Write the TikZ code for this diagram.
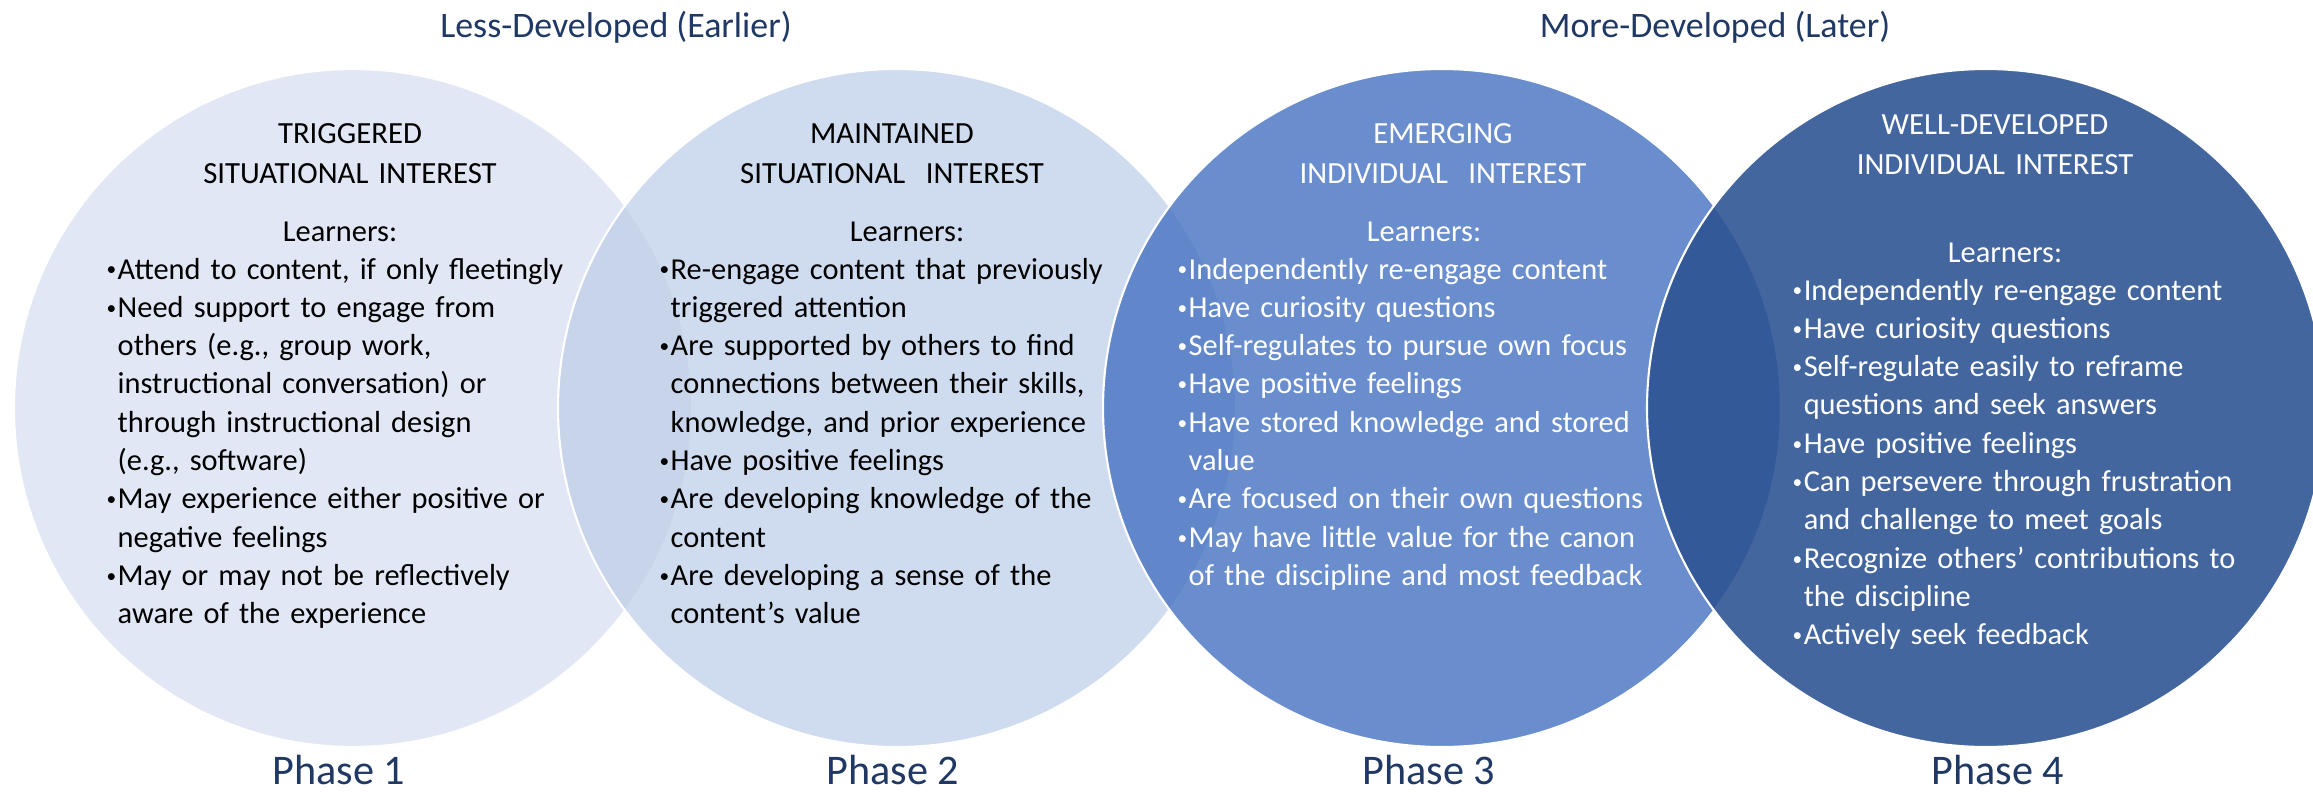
\documentclass[tikz,border=0pt]{standalone}
\usepackage{fontspec}
\setmainfont{Carlito}
\usepackage{xcolor}
\definecolor{phaseone}{RGB}{225,231,244}
\definecolor{phasetwo}{RGB}{188,204,231}
\definecolor{phasethree}{RGB}{73,117,195}
\definecolor{phasefour}{RGB}{45,83,147}
\definecolor{navytext}{RGB}{32,56,100}

% bullet with a small hanging indent
\newlength{\bw}
\setlength{\bw}{2.85pt}
\newcommand{\bul}{\makebox[\bw][l]{\hspace*{-0.3pt}\raisebox{0.9pt}{\fontsize{5.5}{6}\selectfont\textbullet}}}
\newcommand{\cnt}{\hspace*{\bw}}

\begin{document}
\begin{tikzpicture}[x=0.01cm, y=-0.01cm,
    phase/.style={draw=white, line width=0.6pt},
    head/.style={anchor=base, align=center, text width=5cm, inner sep=0pt,
                 font=\fontsize{8.75}{11.1}\selectfont},
    learn/.style={anchor=base, inner sep=0pt, font=\fontsize{8.65}{10.9}\selectfont},
    items/.style={anchor=base west, align=left, text width=6cm, inner sep=0pt,
                  font=\fontsize{8.65}{10.9}\selectfont},
    stage/.style={anchor=base, inner sep=0pt, text=navytext,
                  font=\fontsize{10.2}{12}\selectfont},
    phaselabel/.style={anchor=base, inner sep=0pt, text=navytext,
                  font=\fontsize{12}{14}\selectfont}]
    \useasboundingbox (0,0) rectangle (2313,791);
    \fill[white] (0,0) rectangle (2313,791);
    \clip (0,0) rectangle (2313,791);

    % Circles, each laid a little see-through over the one before
    \draw[phase, fill=phaseone] (353,408) circle (339);
    \draw[phase, fill=phasetwo, fill opacity=0.7] (897,408) circle (339);
    \draw[phase, fill=phasethree, fill opacity=0.82] (1442,408) circle (339);
    \draw[phase, fill=phasefour, fill opacity=0.886] (1986,408) circle (339);

    % Stage labels
    \node[stage] (less) at (616,38) {Less-Developed (Earlier)};
    \node[stage] (more) at (1715,38) {More-Developed (Later)};

    % Phase 1 - triggered
    \node[head] (head1) at (350,144) {TRIGGERED\\SITUATIONAL INTEREST};
    \node[learn] (learn1) at (340,241) {Learners:};
    \node[items] (list1) at (107,279) {\bul Attend to content, if only fleetingly\\
        \bul Need support to engage from\\
        \cnt others (e.g., group work,\\
        \cnt instructional conversation) or\\
        \cnt through instructional design\\
        \cnt (e.g., software)\\
        \bul May experience either positive or\\
        \cnt negative feelings\\
        \bul May or may not be reflectively\\
        \cnt aware of the experience};

    % Phase 2 - maintained
    \node[head] (head2) at (892,144) {MAINTAINED\\SITUATIONAL\ \ INTEREST};
    \node[learn] (learn2) at (907,241) {Learners:};
    \node[items] (list2) at (660,279) {\bul Re-engage content that previously\\
        \cnt triggered attention\\
        \bul Are supported by others to find\\
        \cnt connections between their skills,\\
        \cnt knowledge, and prior experience\\
        \bul Have positive feelings\\
        \bul Are developing knowledge of the\\
        \cnt content\\
        \bul Are developing a sense of the\\
        \cnt content’s value};

    % Phase 3 - emerging
    \node[head, text=white] (head3) at (1443,144) {EMERGING\\INDIVIDUAL\ \ INTEREST};
    \node[learn, text=white] (learn3) at (1424,241) {Learners:};
    \node[items, text=white] (list3) at (1178,279) {\bul Independently re-engage content\\
        \bul Have curiosity questions\\
        \bul Self-regulates to pursue own focus\\
        \bul Have positive feelings\\
        \bul Have stored knowledge and stored\\
        \cnt value\\
        \bul Are focused on their own questions\\
        \bul May have little value for the canon\\
        \cnt of the discipline and most feedback};

    % Phase 4 - well-developed
    \node[head, text=white] (head4) at (1995,135) {WELL-DEVELOPED\\INDIVIDUAL INTEREST};
    \node[learn, text=white] (learn4) at (2005,262) {Learners:};
    \node[items, text=white] (list4) at (1793,300) {\bul Independently re-engage content\\
        \bul Have curiosity questions\\
        \bul Self-regulate easily to reframe\\
        \cnt questions and seek answers\\
        \bul Have positive feelings\\
        \bul Can persevere through frustration\\
        \cnt and challenge to meet goals\\
        \bul Recognize others’ contributions to\\
        \cnt the discipline\\
        \bul Actively seek feedback};

    % Phase labels
    \node[phaselabel] (ph1) at (339,784) {Phase 1};
    \node[phaselabel] (ph2) at (893,784) {Phase 2};
    \node[phaselabel] (ph3) at (1429,784) {Phase 3};
    \node[phaselabel] (ph4) at (1998,784) {Phase 4};
\end{tikzpicture}
\end{document}
